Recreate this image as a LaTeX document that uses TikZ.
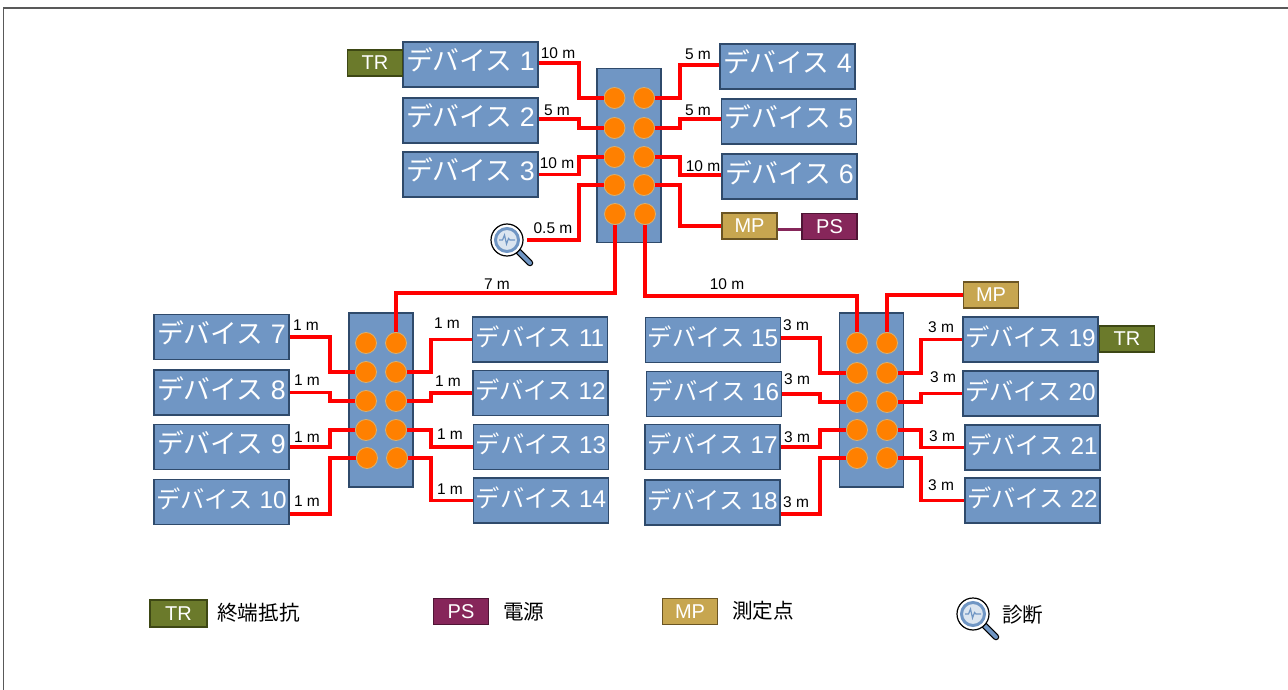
\documentclass[tikz,border=0pt]{standalone}
\usepackage{fontspec}
\setmainfont{Liberation Sans}
\newfontfamily\cjk{Noto Sans CJK JP}
\definecolor{devblue}{HTML}{7096C4}
\definecolor{devline}{HTML}{2F4A6B}
\definecolor{trgreen}{HTML}{6B7A2B}
\definecolor{trline}{HTML}{3D4714}
\definecolor{pspurple}{HTML}{86265A}
\definecolor{psline}{HTML}{4F1535}
\definecolor{mpgold}{HTML}{C7A650}
\definecolor{mpline}{HTML}{6B5523}
\definecolor{portorange}{HTML}{FF8000}
\definecolor{portline}{HTML}{D9B070}
\newcommand{\dev}[1]{{\cjk デバイス} #1}
\tikzset{magnifier/.pic={
	\draw[black,line width=6.5pt,line cap=round] (11,11)--(23,23);
	\draw[devblue,line width=4pt,line cap=round] (11,11)--(23,23);
	\draw[black,line width=1.2pt,fill=white] (0,0) circle (16);
	\draw[devblue,line width=3pt,fill=white!75!devblue] (0,0) circle (11.5);
	\draw[devblue,line width=1.2pt] (-8,0)--(-4.5,0)--(-2.5,-5)--(-0.5,4)--(1.5,-1.5)--(3,0)--(8,0);
}}
\begin{document}
\begin{tikzpicture}[x=1pt, y=-1pt, line join=miter, font=\fontsize{15.5}{15.5}\selectfont,
	device/.style={draw=devline, fill=devblue, line width=1.2pt, text=white, inner sep=0pt, minimum width=135pt, minimum height=45pt, text height=21pt, text depth=8pt, font=\fontsize{26.8}{26.8}\selectfont},
	devicetwo/.style={device, font=\fontsize{24.3}{24.3}\selectfont},
	hub/.style={draw=devline, fill=devblue, line width=1.2pt, inner sep=0pt, minimum width=64pt, minimum height=174pt},
	port/.style={circle, draw=portline, fill=portorange, line width=0.8pt, inner sep=0pt, minimum size=21pt},
	tag/.style={line width=1.2pt, text=white, inner sep=0pt, minimum width=55pt, minimum height=26pt, font=\fontsize{20}{20}\selectfont},
	trtag/.style={tag, draw=trline, fill=trgreen},
	pstag/.style={tag, draw=psline, fill=pspurple},
	mptag/.style={tag, draw=mpline, fill=mpgold},
	wire/.style={red, line width=3.8pt},
	legend/.style={inner sep=0pt, anchor=west, font=\cjk\fontsize{20.6}{20.6}\selectfont}]
	\useasboundingbox (0,0) rectangle (1288,690);
	\draw[black!65,line width=1.2pt] (3.5,690)--(3.5,8)--(1288,8);
	% hubs
	\draw (629,155.5) node[hub](hubA){};
	\draw (381,400) node[hub](hubB){};
	\draw (871.5,400) node[hub](hubC){};
	% top group
	\draw (470.5,64.5) node[device](d1){\dev{1}};
	\draw (470.5,120.5) node[device](d2){\dev{2}};
	\draw (470.5,174.5) node[device](d3){\dev{3}};
	\draw (787.5,66.5) node[device](d4){\dev{4}};
	\draw (789,121.5) node[device](d5){\dev{5}};
	\draw (789.5,176.5) node[device](d6){\dev{6}};
	% left group
	\draw (221.5,337) node[device](d7){\dev{7}};
	\draw (221.5,392.5) node[device](d8){\dev{8}};
	\draw (221.5,447) node[device](d9){\dev{9}};
	\draw (221.5,502) node[devicetwo](d10){\dev{10}};
	\draw (540,339.5) node[devicetwo](d11){\dev{11}};
	\draw (540.5,393) node[devicetwo](d12){\dev{12}};
	\draw (541,447) node[devicetwo](d13){\dev{13}};
	\draw (541,500.5) node[devicetwo](d14){\dev{14}};
	% right group
	\draw (713,340) node[devicetwo](d15){\dev{15}};
	\draw (714,394) node[devicetwo](d16){\dev{16}};
	\draw (712.5,447) node[devicetwo](d17){\dev{17}};
	\draw (712.5,502.5) node[devicetwo](d18){\dev{18}};
	\draw (1030.5,339.5) node[devicetwo](d19){\dev{19}};
	\draw (1030.5,393.5) node[devicetwo](d20){\dev{20}};
	\draw (1032.5,447.5) node[devicetwo](d21){\dev{21}};
	\draw (1032.5,500.5) node[devicetwo](d22){\dev{22}};
	% tags
	\draw (375,63) node[trtag](trA){TR};
	\draw (1127,339) node[trtag](trB){TR};
	\draw (749.5,226) node[mptag](mpA){MP};
	\draw (829.5,226.5) node[pstag](psA){PS};
	\draw (991,295) node[mptag](mpB){MP};
	% ports
	\draw (614.5,98) node[port](a1){}; \draw (644,98) node[port](a2){};
	\draw (614.5,128) node[port](a3){}; \draw (644,128) node[port](a4){};
	\draw (614.5,157) node[port](a5){}; \draw (644,157) node[port](a6){};
	\draw (614.5,185) node[port](a7){}; \draw (644,185) node[port](a8){};
	\draw (615,214) node[port](a9){}; \draw (645,214) node[port](a10){};
	\draw (366,343) node[port](b1){}; \draw (396,343) node[port](b2){};
	\draw (366,372) node[port](b3){}; \draw (396,372) node[port](b4){};
	\draw (366,401) node[port](b5){}; \draw (396,401) node[port](b6){};
	\draw (366,430) node[port](b7){}; \draw (396,430) node[port](b8){};
	\draw (367,458) node[port](b9){}; \draw (397,458) node[port](b10){};
	\draw (857,343) node[port](c1){}; \draw (887,343) node[port](c2){};
	\draw (857,373) node[port](c3){}; \draw (887,373) node[port](c4){};
	\draw (857,402) node[port](c5){}; \draw (887,402) node[port](c6){};
	\draw (857,430) node[port](c7){}; \draw (887,430) node[port](c8){};
	\draw (857,458) node[port](c9){}; \draw (887,458) node[port](c10){};
	% probe
	\draw (507,240) pic{magnifier};
	\coordinate (probeA) at (527,240);
	% wires
	\draw[wire] ([yshift=1.5pt]d1.east)-|(579,0 |- a1)--(a1.west);
	\draw[wire] ([yshift=1.5pt]d2.east)-|(579,0 |- a3)--(a3.west);
	\draw[wire] (d3.east)-|(579,0 |- a5)--(a5.west);
	\draw[wire] (probeA)-|(579,0 |- a7)--(a7.west);
	\draw[wire] ([yshift=1.5pt]d4.west)-|(680,0 |- a2)--(a2.east);
	\draw[wire] ([yshift=2.5pt]d5.west)-|(680,0 |- a4)--(a4.east);
	\draw[wire] ([yshift=1.5pt]d6.west)-|(680,0 |- a6)--(a6.east);
	\draw[wire] (mpA.west)-|(680,0 |- a8)--(a8.east);
	\draw[wire] (a9.south)|-(0,293 -| b2)--(b2.north);
	\draw[wire] (a10.south)|-(0,296 -| c1)--(c1.north);
	\draw[wire] (mpB.west)-|(c2.north);
	\draw[wire] (d7.east)-|(330,0 |- b3)--(b3.west);
	\draw[wire] (d8.east)-|(330,0 |- b5)--(b5.west);
	\draw[wire] (d9.east)-|(330,0 |- b7)--(b7.west);
	\draw[wire] ([yshift=-12pt]d10.east)-|(330,0 |- b9)--(b9.west);
	\draw[wire] (d11.west)-|(431,0 |- b4)--(b4.east);
	\draw[wire] (d12.west)-|(431,0 |- b6)--(b6.east);
	\draw[wire] (d13.west)-|(431,0 |- b8)--(b8.east);
	\draw[wire] (d14.west)-|(431,0 |- b10)--(b10.east);
	\draw[wire] ([yshift=2pt]d15.east)-|(820,0 |- c3)--(c3.west);
	\draw[wire] (d16.east)-|(820,0 |- c5)--(c5.west);
	\draw[wire] (d17.east)-|(820,0 |- c7)--(c7.west);
	\draw[wire] ([yshift=-11.5pt]d18.east)-|(820,0 |- c9)--(c9.west);
	\draw[wire] (d19.west)-|(921,0 |- c4)--(c4.east);
	\draw[wire] (d20.west)-|(921,0 |- c6)--(c6.east);
	\draw[wire] (d21.west)-|(921,0 |- c8)--(c8.east);
	\draw[wire] (d22.west)-|(921,0 |- c10)--(c10.east);
	\draw[pspurple,line width=3pt] ([yshift=-3pt]mpA.east)--([yshift=-2.5pt]psA.west);
	% lengths
	\draw (558,53) node{10 m};
	\draw (557,110) node{5 m};
	\draw (557,163) node{10 m};
	\draw (553,228) node{0.5 m};
	\draw (698,54) node{5 m};
	\draw (698,110) node{5 m};
	\draw (703,166) node{10 m};
	\draw (497,284) node{7 m};
	\draw (727,284) node{10 m};
	\draw (306,325) node{1 m};
	\draw (307,380) node{1 m};
	\draw (307,437) node{1 m};
	\draw (307,501) node{1 m};
	\draw (447,323) node{1 m};
	\draw (448,381) node{1 m};
	\draw (450,434) node{1 m};
	\draw (450,489) node{1 m};
	\draw (796,325) node{3 m};
	\draw (797,379) node{3 m};
	\draw (797,437) node{3 m};
	\draw (796,502) node{3 m};
	\draw (941,327) node{3 m};
	\draw (943,377) node{3 m};
	\draw (942,436) node{3 m};
	\draw (941,485) node{3 m};
	% legend
	\draw (178.5,613.5) node[trtag,minimum width=57pt,minimum height=27pt](trL){TR};
	\draw (217,613) node[legend](trT){終端抵抗};
	\draw (461,611.5) node[pstag](psL){PS};
	\draw (503,612) node[legend](psT){電源};
	\draw (690,611.5) node[mptag](mpL){MP};
	\draw (732,611) node[legend](mpT){測定点};
	\draw (973,614) pic{magnifier};
	\draw (1002,615) node[legend](probeT){診断};
\end{tikzpicture}
\end{document}
